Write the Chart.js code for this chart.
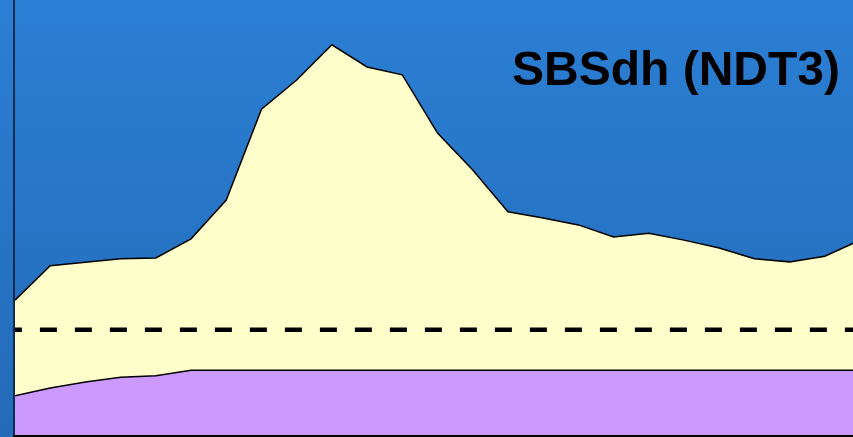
<!DOCTYPE html>
<html>
<head>
<meta charset="utf-8">
<script src="https://cdn.jsdelivr.net/npm/chart.js@4/dist/chart.umd.min.js"></script>
<style>
  html, body { margin: 0; padding: 0; overflow: hidden; background: #2773c6; }
  #wrap { width: 853px; height: 437px; position: relative; }
</style>
</head>
<body>
<div id="wrap"><canvas id="c" width="853" height="437"></canvas></div>
<script>
// Sample positions along the profile
const positions = [0,1,2,3,4,5,6,7,8,9,10,11,12,13,14,15,16,17,18,19,20,21,22,23,24];

// Upper envelope (yellow band)
const upperValues = [31.0,38.9,39.7,40.5,40.7,45.1,54.0,74.9,81.6,89.7,84.6,82.8,69.4,60.9,51.3,49.9,48.3,45.5,46.4,44.8,43.0,40.5,39.8,41.1,44.8];

// Lower band (purple)
const lowerValues = [9.0,10.8,12.2,13.3,13.6,14.9,14.9,14.9,14.9,14.9,14.9,14.9,14.9,14.9,14.9,14.9,14.9,14.9,14.9,14.9,14.9,14.9,14.9,14.9,14.9];

// Reference threshold (dashed)
const thresholdValue = 24.2;

const chartTitle = 'SBSdh (NDT3)';

const toPoints = vals => vals.map((v, i) => ({ x: positions[i], y: v }));

const backgroundPlugin = {
  id: 'bg',
  beforeDraw(chart) {
    const { ctx, width, height } = chart;
    const g = ctx.createLinearGradient(0, 0, 0, height);
    g.addColorStop(0, '#2b7fd4');
    g.addColorStop(1, '#236bb8');
    ctx.save();
    ctx.fillStyle = g;
    ctx.fillRect(0, 0, width, height);
    ctx.restore();
  }
};

const axesPlugin = {
  id: 'axesLines',
  afterDatasetsDraw(chart) {
    const { ctx, chartArea } = chart;
    ctx.save();
    ctx.lineWidth = 2;
    ctx.strokeStyle = '#0f2c50';
    ctx.beginPath();
    ctx.moveTo(chartArea.left - 1, 0);
    ctx.lineTo(chartArea.left - 1, chartArea.bottom + 1);
    ctx.stroke();
    ctx.strokeStyle = '#000000';
    ctx.beginPath();
    ctx.moveTo(chartArea.left - 2, chartArea.bottom + 1);
    ctx.lineTo(chart.width, chartArea.bottom + 1);
    ctx.stroke();
    ctx.restore();
  },
  afterDraw(chart) {
    const { ctx } = chart;
    ctx.save();
    ctx.font = 'bold 48px "Liberation Sans", Arial, sans-serif';
    ctx.fillStyle = '#000000';
    ctx.textAlign = 'right';
    ctx.textBaseline = 'alphabetic';
    ctx.fillText(chartTitle, 840, 85);
    ctx.restore();
  }
};

new Chart(document.getElementById('c'), {
  type: 'line',
  data: {
    datasets: [
      {
        label: 'threshold',
        data: [{ x: -0.06, y: thresholdValue }, { x: positions[positions.length - 1], y: thresholdValue }],
        borderColor: '#000000',
        borderWidth: 4.5,
        borderDash: [17, 18],
        borderDashOffset: 8,
        pointRadius: 0,
        fill: false,
        clip: false,
        order: 0
      },
      {
        label: 'lower',
        data: toPoints(lowerValues),
        borderColor: '#000000',
        borderWidth: 1.5,
        backgroundColor: '#cc99ff',
        pointRadius: 0,
        tension: 0,
        fill: 'origin',
        order: 1
      },
      {
        label: 'upper',
        data: toPoints(upperValues),
        borderColor: '#000000',
        borderWidth: 1.5,
        backgroundColor: '#ffffcc',
        pointRadius: 0,
        tension: 0,
        fill: 'origin',
        order: 2
      }
    ]
  },
  options: {
    responsive: false,
    animation: false,
    layout: { padding: { left: 15, right: 0, top: 0, bottom: 2 } },
    plugins: { legend: { display: false }, tooltip: { enabled: false }, title: { display: false } },
    scales: {
      x: { type: 'linear', min: 0, max: 23.8, display: false },
      y: { type: 'linear', min: 0, max: 100, display: false }
    }
  },
  plugins: [backgroundPlugin, axesPlugin]
});
</script>
</body>
</html>
